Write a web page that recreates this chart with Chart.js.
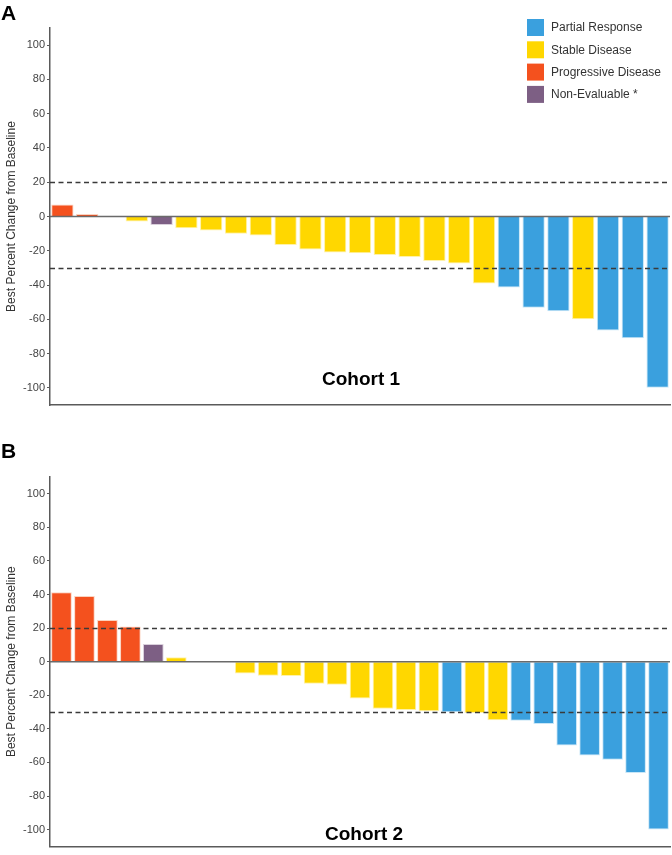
<!DOCTYPE html>
<html>
<head>
<meta charset="utf-8">
<script src="https://cdn.jsdelivr.net/npm/chart.js@4.4.1/dist/chart.umd.min.js"></script>
<style>
  html, body { margin: 0; padding: 0; background: #ffffff; }
  .wrap { position: relative; width: 672px; }
  canvas { display: block; }
</style>
</head>
<body>
<div class="wrap"><canvas id="c1" width="672" height="428"></canvas></div>
<div class="wrap"><canvas id="c2" width="672" height="427"></canvas></div>
<script>
// ---------- DATA ----------
const cohort1Values = [7.0, 1.4, 0, -2.9, -4.9, -6.8, -8.2, -10.1, -11.1, -16.7, -19.3, -21.0, -21.4, -22.4, -23.7, -25.9, -27.4, -39.1, -41.4, -53.3, -55.3, -59.9, -66.5, -71.0, -100];
const cohort1Status = ['PD','PD','SD','SD','NE','SD','SD','SD','SD','SD','SD','SD','SD','SD','SD','SD','SD','SD','PR','PR','PR','SD','PR','PR','PR'];

const cohort2Values = [41.4, 39.2, 24.9, 21.0, 10.5, 2.7, 0, 0, -7.0, -8.3, -8.5, -13.2, -13.8, -21.9, -28.0, -28.7, -29.5, -30.1, -30.5, -34.8, -35.1, -37.1, -49.9, -55.9, -58.4, -66.3, -100];
const cohort2Status = ['PD','PD','PD','PD','NE','SD','SD','SD','SD','SD','SD','SD','SD','SD','SD','SD','SD','PR','SD','SD','PR','PR','PR','PR','PR','PR','PR'];

const yTicks = [100, 80, 60, 40, 20, 0, -20, -40, -60, -80, -100];
const thresholdLines = [20, -30];
const legendKeys = ['PR', 'SD', 'PD', 'NE'];
const legendLabels = ['Partial Response', 'Stable Disease', 'Progressive Disease', 'Non-Evaluable *'];
const yTitle = 'Best Percent Change from Baseline';

// ---------- STYLE ----------
const FONT = "'Liberation Sans', Arial, Helvetica, sans-serif";
const statusColor = { PR: '#3AA0DE', SD: '#FFD700', PD: '#F4511E', NE: '#7D5F84' };
const statusBorder = { PR: '#C8E6F7', SD: '#FFF2A8', PD: '#FBD3C0', NE: '#D9CFDB' };

const overlayPlugin = {
  id: 'overlay',
  afterDatasetsDraw(chart, args, opts) {
    const ctx = chart.ctx;
    const y = chart.scales.y;
    const area = chart.chartArea;
    ctx.save();
    // zero line
    ctx.strokeStyle = '#6a6a6a';
    ctx.lineWidth = 1.5;
    ctx.beginPath();
    const y0 = y.getPixelForValue(0);
    ctx.moveTo(area.left, y0);
    ctx.lineTo(area.right, y0);
    ctx.stroke();
    // dashed threshold lines
    ctx.strokeStyle = '#3a3a3a';
    ctx.lineWidth = 1.4;
    ctx.setLineDash([5, 3.5]);
    thresholdLines.forEach(v => {
      const py = Math.round(y.getPixelForValue(v)) + 0.5;
      ctx.beginPath();
      ctx.moveTo(area.left, py);
      ctx.lineTo(area.right, py);
      ctx.stroke();
    });
    ctx.setLineDash([]);
    // panel letter
    ctx.fillStyle = '#000';
    ctx.font = 'bold 21px ' + FONT;
    ctx.textAlign = 'left';
    ctx.textBaseline = 'alphabetic';
    ctx.fillText(opts.letter, opts.letterX, opts.letterY);
    // cohort label
    ctx.font = 'bold 19px ' + FONT;
    ctx.textAlign = 'center';
    ctx.fillText(opts.cohort, opts.cohortX, opts.cohortY);
    // legend
    if (opts.legend) {
      ctx.font = '12px ' + FONT;
      ctx.textAlign = 'left';
      ctx.textBaseline = 'middle';
      legendKeys.forEach((k, i) => {
        const cy = 27.5 + i * 22.3;
        ctx.fillStyle = statusColor[k];
        ctx.fillRect(527, cy - 8.5, 17, 17);
        ctx.fillStyle = '#333';
        ctx.fillText(legendLabels[i], 551, cy + 0.5);
      });
    }
    ctx.restore();
  }
};

function makeChart(id, values, statuses, opts, pad) {
  const labels = values.map((_, i) => String(i + 1));
  return new Chart(document.getElementById(id), {
    type: 'bar',
    data: {
      labels: labels,
      datasets: [{
        data: values,
        backgroundColor: statuses.map(s => statusColor[s]),
        borderColor: statuses.map(s => statusBorder[s]),
        borderWidth: values.map(v => v === 0 ? 0 : 1),
        borderSkipped: 'start',
        barPercentage: 0.9,
        categoryPercentage: 1.0
      }]
    },
    options: {
      responsive: false,
      animation: false,
      devicePixelRatio: 1,
      layout: { padding: pad },
      plugins: {
        legend: { display: false },
        tooltip: { enabled: false },
        overlay: opts
      },
      scales: {
        x: {
          grid: { display: false },
          ticks: { display: false },
          border: { display: true, color: '#5a5a5a', width: 1.5 },
          afterFit(s) { s.height = 0; }
        },
        y: {
          min: -110,
          max: 110,
          afterBuildTicks(s) { s.ticks = yTicks.map(v => ({ value: v })); },
          afterFit(s) { s.width = 50; },
          grid: { display: true, drawOnChartArea: false, drawTicks: true, tickLength: 3, color: '#5a5a5a', lineWidth: 1 },
          border: { display: true, color: '#5a5a5a', width: 1.5 },
          ticks: { color: '#444', font: { family: FONT, size: 11 }, padding: 2, autoSkip: false },
          title: { display: true, text: yTitle, color: '#333', font: { family: FONT, size: 12 }, padding: { top: 4, bottom: 0 } }
        }
      }
    },
    plugins: [overlayPlugin]
  });
}

makeChart('c1', cohort1Values, cohort1Status,
  { letter: 'A', letterX: 1, letterY: 20, cohort: 'Cohort 1', cohortX: 361, cohortY: 385, legend: true },
  { left: 0, right: 2, top: 28, bottom: 23 });

makeChart('c2', cohort2Values, cohort2Status,
  { letter: 'B', letterX: 1, letterY: 30, cohort: 'Cohort 2', cohortX: 364, cohortY: 412, legend: false },
  { left: 0, right: 2, top: 49, bottom: 2 });
</script>
</body>
</html>
